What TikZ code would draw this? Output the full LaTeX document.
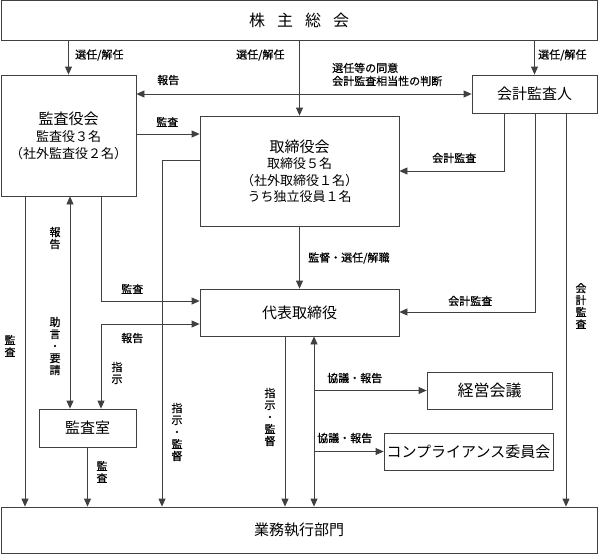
\documentclass[tikz,border=0pt]{standalone}
\usepackage{fontspec}
\setmainfont{Noto Sans CJK JP}
\newfontfamily\lblfont[FakeBold=0.6]{Noto Sans CJK JP}
\usetikzlibrary{arrows.meta}
\begin{document}
\begin{tikzpicture}[x=1pt,y=-1pt,
  box/.style={draw=black!75, line width=0.8pt, inner sep=0pt, align=center},
  ln/.style={draw=black!75, line width=0.8pt},
  arr/.style={ln, -{Triangle[length=8pt,width=7pt]}},
  darr/.style={ln, {Triangle[length=8pt,width=7pt]}-{Triangle[length=8pt,width=7pt]}},
  lbl/.style={font=\lblfont\fontsize{11}{13}\selectfont, inner sep=0pt},
  vlbl/.style={font=\lblfont\fontsize{11}{12}\selectfont, inner sep=0pt, align=center},
  ttl/.style={font=\fontsize{15}{18}\selectfont},
]
\useasboundingbox (0,0) rectangle (599,554);

% boxes
\node[box, minimum width=596pt, minimum height=40pt, font=\fontsize{16}{18}\selectfont] (top) at (299,20.5) {株\hspace{12pt}主\hspace{12pt}総\hspace{12pt}会};
\node[box, minimum width=135pt, minimum height=121pt, font=\fontsize{13}{17}\selectfont] (ks) at (68.5,135.5) {{\fontsize{15}{17}\selectfont 監査役会}\\監査役３名\\（社外監査役２名）};
\node[box, minimum width=199pt, minimum height=110pt, font=\fontsize{13}{16.5}\selectfont] (tk) at (299.5,171) {{\fontsize{15}{16.5}\selectfont 取締役会}\\取締役５名\\（社外取締役１名）\\うち独立役員１名};
\node[box, ttl, minimum width=125pt, minimum height=38pt] (ai) at (534.5,94) {会計監査人};
\node[box, ttl, minimum width=199pt, minimum height=47pt] (dh) at (299.5,312.5) {代表取締役};
\node[box, ttl, minimum width=97pt, minimum height=38pt] (ksr) at (87.5,428) {監査室};
\node[box, font=\fontsize{16}{18}\selectfont, minimum width=125pt, minimum height=37pt] (kk) at (489.5,390.5) {経営会議};
\node[box, font=\fontsize{15}{18}\selectfont, minimum width=169pt, minimum height=37pt] (cp) at (468.5,451.5) {コンプライアンス委員会};
\node[box, ttl, minimum width=596pt, minimum height=46pt] (gy) at (299,530) {業務執行部門};

% connectors
\draw[arr] (top.south -| ks.north) -- (ks.north);
\draw[arr] (top.south -| tk.north) -- (tk.north);
\draw[arr] (top.south -| ai.north) -- (ai.north);
\draw[darr] (ks.east |- ai.west) -- (ai.west);
\draw[arr] (ks.east |- 0,134) -- (tk.west |- 0,134);
\draw[arr] (ai.south -| 504,0) -- (504,171) -- (tk.east |- 0,171);
\draw[arr] (ai.south -| 535,0) -- (535,312) -- (dh.east |- 0,312);
\draw[arr] (ai.south -| 566,0) -- (gy.north -| 566,0);
\draw[arr] (tk.south) -- (dh.north);
\draw[arr] (ks.south -| 101,0) -- (101,301) -- (dh.west |- 0,301);
\draw[arr] (tk.west |- 0,160) -- (162,160) -- (gy.north -| 162,0);
\draw[darr] (dh.west |- 0,324) -- (101,324) -- (ksr.north -| 101,0);
\draw[darr] (ks.south -| 70,0) -- (ksr.north -| 70,0);
\draw[arr] (ks.south -| 25,0) -- (gy.north -| 25,0);
\draw[arr] (ksr.south) -- (gy.north -| ksr.south);
\draw[arr] (dh.south -| 285,0) -- (gy.north -| 285,0);
\draw[darr] (dh.south -| 314,0) -- (gy.north -| 314,0);
\coordinate (b1) at (314,390.5);
\coordinate (b2) at (314,451.5);
\draw[arr] (b1) -- (kk.west);
\draw[arr] (b2) -- (cp.west);

% labels
\node[lbl, anchor=west] at (75,55) {選任/解任};
\node[lbl, anchor=west] at (236,55) {選任/解任};
\node[lbl, anchor=west] at (538,55) {選任/解任};
\node[lbl, anchor=west] at (157,80) {報告};
\node[lbl, anchor=west, align=left] at (332,74.5) {選任等の同意\\会計監査相当性の判断};
\node[lbl, anchor=west] at (156,122) {監査};
\node[lbl, anchor=west] at (432,158) {会計監査};
\node[lbl, anchor=west] at (308,258) {監督・選任/解職};
\node[lbl, anchor=west] at (448,301) {会計監査};
\node[lbl, anchor=west] at (121,289) {監査};
\node[lbl, anchor=west] at (121,338) {報告};
\node[vlbl] at (117,373) {指\\示};
\node[vlbl] at (55,238) {報\\告};
\node[vlbl] at (55,346) {助\\言\\・\\要\\請};
\node[vlbl] at (10,346) {監\\査};
\node[vlbl] at (102,472) {監\\査};
\node[vlbl] at (177,432) {指\\示\\・\\監\\督};
\node[vlbl] at (270,417) {指\\示\\・\\監\\督};
\node[vlbl] at (581,306) {会\\計\\監\\査};
\node[lbl, anchor=west] at (327,378) {協議・報告};
\node[lbl, anchor=west] at (317,438) {協議・報告};
\end{tikzpicture}
\end{document}
